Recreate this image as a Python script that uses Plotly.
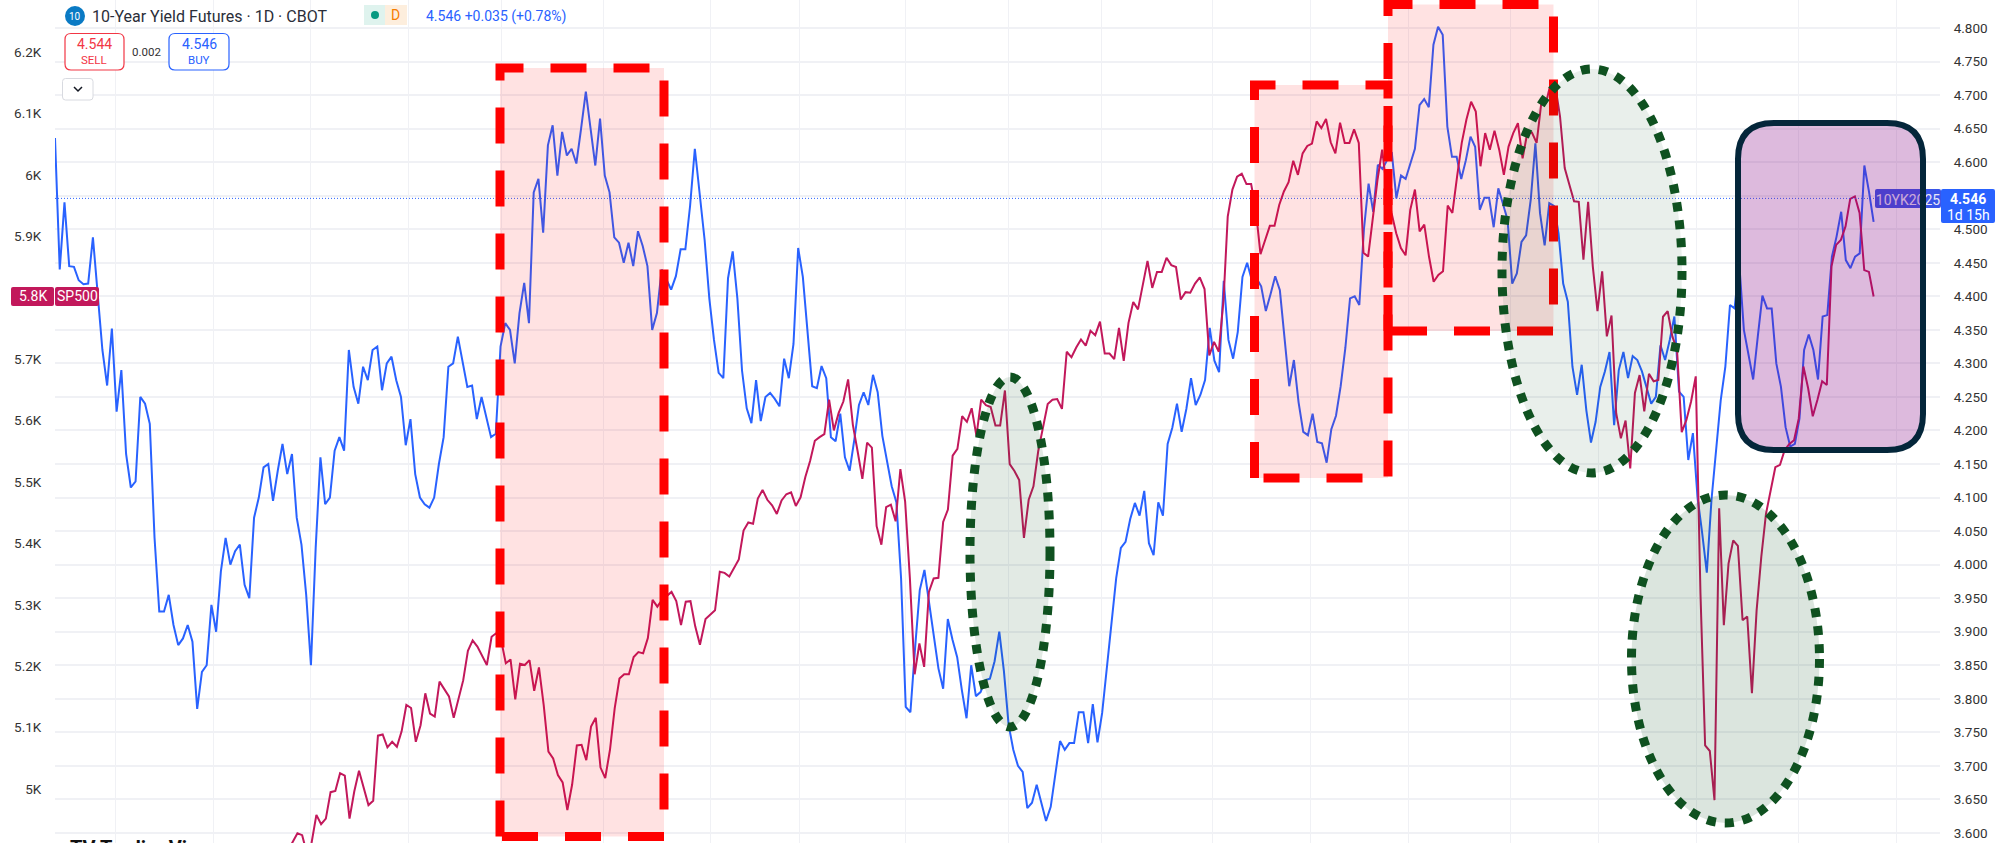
import numpy as np
import plotly.graph_objects as go

# 10-Year Yield Futures, one value per session (right axis)
yield_part1 = [4.636,4.44,4.54,4.445,4.444,4.424,4.418,4.419,4.488,4.40,4.32,4.267,4.352,4.228,4.29,4.165,4.115,4.124,4.25,4.24,4.21,
4.04,3.93,3.93,3.955,3.91,3.88,3.89,3.91,3.885,3.785,3.84,3.85,3.94,3.90,3.99,4.04,4.0,4.02,4.03,3.97,3.95,4.07,4.10,4.145,4.15,4.095,4.14,4.18,4.135,4.165,4.07,4.03,3.955,3.85,4.025,4.16,4.09,4.10,4.17,4.19,4.17,
4.32,4.265,4.24,4.295,4.275,4.32,4.325,4.26,4.30,4.31,4.275,4.25,4.178,4.217,4.135,4.10,4.09,4.085,4.10,4.15,4.19,4.295,4.30,4.34,4.30,4.265,4.267,4.217,4.25,4.22,4.19,4.195,4.325,4.36,4.35,4.30,4.375,4.42,4.36,4.555,4.575,4.495,4.625,4.655,4.58,4.645,4.61,4.62,4.598,4.65,4.705,4.65,4.595,4.665,4.58,4.555,4.488,4.48,4.45,4.48,4.445,4.497,4.475,4.445,4.35,4.375,4.44,4.425,4.41,4.43,4.47,4.47,4.535,4.62]
yield_part2 = [4.548,4.484,4.397,4.335,4.286,4.278,4.427,4.467,4.397,4.289,4.233,4.211,4.275,4.214,4.25,4.256,4.247,4.236,4.307,4.278,4.329,4.472,4.429,4.341,4.266,4.263,4.296,4.278,4.19,4.184,4.225,4.16,4.14,4.186,4.238,4.257,4.238,4.283,4.257,4.192,4.152,4.117,4.093,3.98,3.788,3.78,3.876,3.962,3.992,3.943,3.894,3.845,3.815,3.919,3.888,3.862,3.813,3.771,3.85,3.804,3.81,3.828,3.83,3.856,3.90,3.841,3.761,3.724,3.70,3.691,3.637,3.645,3.672,3.645,3.618,3.639,3.686,3.737,3.724,3.734,3.734,3.78,3.78,3.734,3.792,3.735,3.779,3.845,3.91,3.98,4.025,4.034,4.068,4.092,4.073,4.11,4.032,4.014,4.093,4.073,4.18,4.204,4.24,4.198,4.232,4.278,4.238,4.253,4.275,4.353,4.304,4.287,4.423,4.335,4.307,4.347,4.429,4.45,4.424,4.427,4.415,4.378,4.403,4.43,4.409,4.336,4.266,4.305,4.242,4.198,4.193,4.225,4.183,4.181,4.152,4.202,4.222,4.266,4.323,4.397]
yield_part3 = [4.4,4.387,4.5,4.568,4.526,4.596,4.59,4.603,4.615,4.546,4.58,4.575,4.598,4.62,4.685,4.694,4.682,4.775,4.802,4.79,4.653,4.608,4.608,4.575,4.603,4.638,4.623,4.529,4.547,4.547,4.503,4.561,4.538,4.514,4.419,4.434,4.481,4.491,4.544,4.628,4.524,4.476,4.539,4.535,4.494,4.419,4.392,4.295,4.253,4.298,4.23,4.182,4.213,4.265,4.288,4.317,4.208,4.29,4.317,4.278,4.311,4.305,4.288,4.263,4.24,4.25,4.327,4.305,4.335,4.37,4.258,4.25,4.156,4.196,4.1,4.047,3.988,4.096,4.171,4.245,4.295,4.387,4.382,4.449,4.35,4.315,4.276,4.34,4.401,4.382,4.382,4.3,4.265,4.205,4.176,4.18,4.218,4.32,4.343,4.32,4.276,4.37,4.372,4.459,4.489,4.526,4.454,4.442,4.459,4.464,4.595,4.556,4.511]
yield_sessions = [(0, 137.6), (138.7, 278.5), (279.5, 391.1)]

# SP500, one value per session (left axis)
sp_part1 = [4900,4913,4928,4925,4895,4913,4958,4943,4952,4995,4997,5026,5022,4952,4996,5030,5001,4974,4981,5087,5089,5068,5077,5069,5094,5137,5132,5077,5104,5156,5123,5118,5175,5163,5151,5116,5148,5177,5225,5242,5232,5218,5202,5248,5254,5243,5205,5211,5146,5204,5202,5210,5160,5198,5137,5061,5050,5023,5011,4966,5007,5071,5072,5047,5102,5116,5035,5018,5064,5132,5180,5187,5187,5215,5223,5221,5246,5308,5297,5308,5314,5321,5306,5267,5305,5306,5265,5235]
sp_part2 = [5277,5284,5291,5354,5352,5346,5361,5374,5421,5434,5432,5473,5487,5471,5462,5448,5470,5480,5483,5461,5475,5508,5534,5567,5573,5578,5634,5584,5612,5631,5667,5593,5550,5505,5564,5556,5428,5398,5459,5463,5436,5521,5468,5343,5187,5237,5199,5321,5343,5344,5435,5455,5543,5554,5607,5598,5620,5575,5634,5625,5622,5592,5592,5649,5529,5518,5503,5409,5471,5493,5550,5587,5627,5634,5635,5619,5712,5703,5719,5732,5722,5746,5739,5761,5709,5709,5700,5751,5697,5759,5793,5781,5819,5860,5816,5842,5842,5865,5853,5850,5797,5809,5808,5823,5833,5814,5706,5728,5712,5797]
sp_part3 = [5932,5976,5997,6002,5985,5985,5943,5871,5894,5917,5917,5951,5973,5988,6023,6000,6035,6047,6051,6087,6076,6091,6053,6035,6085,6052,6052,6074,6052,5873,5867,5927,5992,6041,5976,5938,5905,5881,5869,5943,5976,5908,5919,5867,5826,5837,5843,5950,5938,5997,6052,6090,6119,6103,6014,6068,6041,6072,6041,6000,6046,6068,6084,6027,6068,6069,6052,6117,6117,6149,6144,6095,6011,5984,5957,5956,5862,5956,5851,5778,5843,5737,5771,5612,5571,5600,5522,5645,5674,5615,5676,5664,5666,5769,5778,5737,5715,5581,5601,5631,5672,5320,5071,5062,4982,5457,5267,5367,5405,5396,5275,5281,5156,5291,5378,5448,5486,5524,5528,5552,5562,5568,5603,5688,5653,5607,5634,5664,5658,5851,5886,5894,5916,5961,5965,5938,5845,5842,5802]
sp_sessions = [(50.1, 138.7), (139.9, 251.3), (252.2, 391.1)]

yield_ticks = [3.6,3.65,3.7,3.75,3.8,3.85,3.9,3.95,4.0,4.05,4.1,4.15,4.2,4.25,4.3,4.35,4.4,4.45,4.5,4.55,4.6,4.65,4.7,4.75,4.8]
sp_ticks = [5000,5100,5200,5300,5400,5500,5600,5700,5800,5900,6000,6100,6200]
sp_tick_labels = ["5K","5.1K","5.2K","5.3K","5.4K","5.5K","5.6K","5.7K","","5.9K","6K","6.1K","6.2K"]
session_grid = [13,34,55,76,96,118,141,160,183,205,225,249,270,291,313,332,353,375,396]

def sessions(parts, spans):
    return np.concatenate([np.linspace(a, b, len(p)) for p, (a, b) in zip(parts, spans)]).tolist()

blue = yield_part1 + yield_part2 + yield_part3
blue_x = sessions([yield_part1, yield_part2, yield_part3], yield_sessions)
red = sp_part1 + sp_part2 + sp_part3
red_x = sessions([sp_part1, sp_part2, sp_part3], sp_sessions)

W, H = 2000, 843
L, R = 55, 1940
step = 4.65
def px(x): return (x - L) / (R - L)
def py(y): return 1 - y / H

BLUE, RED = "#2962ff", "#c2185b"
fig = go.Figure()
fig.add_trace(go.Scatter(x=blue_x, y=blue, mode="lines", yaxis="y", line=dict(color=BLUE, width=2), hoverinfo="skip"))
fig.add_trace(go.Scatter(x=red_x, y=red, mode="lines", yaxis="y2", line=dict(color=RED, width=2), hoverinfo="skip"))

shapes = []
def pshape(path, **kw):
    shapes.append(dict(type="path", xref="paper", yref="paper", path=path, layer="above", **kw))

def box(l, t, r, b):
    return f"M{px(l)},{py(b)} V{py(t)} H{px(r)} V{py(b)} Z"

def round_box(l, t, r, b, rad):
    return (f"M{px(l+rad)},{py(t)} L{px(r-rad)},{py(t)} Q{px(r)},{py(t)} {px(r)},{py(t+rad)} "
            f"L{px(r)},{py(b-rad)} Q{px(r)},{py(b)} {px(r-rad)},{py(b)} "
            f"L{px(l+rad)},{py(b)} Q{px(l)},{py(b)} {px(l)},{py(b-rad)} "
            f"L{px(l)},{py(t+rad)} Q{px(l)},{py(t)} {px(l+rad)},{py(t)} Z")

def solid(l, t, r, b, fill, line=None, lw=0, rad=0, **kw):
    line_d = dict(color=line, width=lw) if line else dict(width=0)
    p = round_box(l, t, r, b, rad) if rad else box(l, t, r, b)
    pshape(p, fillcolor=fill, line=line_d, **kw)

# current price line
shapes.append(dict(type="line", xref="paper", yref="y", x0=0, x1=1, y0=4.546, y1=4.546, layer="above",
                   line=dict(color=BLUE, width=1, dash="1px,2px")))

# symbol tag sits beneath the purple box
solid(1875, 189, 1941, 208, "#3a55e8", rad=2,
      label=dict(text="10YK2025", font=dict(family="Roboto", size=14, color="#e8e8f8"), textposition="middle center"))
solid(1941, 189, 1995, 223, BLUE, rad=2)

# red dashed rectangles
red_fill = "rgba(255,0,0,0.115)"
red_line = dict(color="#ff0000", width=9, dash="36px,27px")
pshape(box(500, 68, 664, 836.5), fillcolor=red_fill, line=red_line)
pshape(box(1254.5, 85, 1388, 478), fillcolor=red_fill, line=red_line)
pshape(box(1388, 4.5, 1553.5, 331), fillcolor=red_fill, line=red_line)

# green dotted ellipses
green_line = dict(color="#0f5120", width=9, dash="9px,9px")
def ellipse(cx, cy, rx, ry, fill):
    shapes.append(dict(type="circle", xref="paper", yref="paper", x0=px(cx-rx), x1=px(cx+rx), y0=py(cy+ry), y1=py(cy-ry),
                       fillcolor=fill, line=green_line, layer="above"))
ellipse(1010, 552, 40, 175, "rgba(15,81,32,0.12)")
ellipse(1592, 271, 90, 202, "rgba(15,81,32,0.09)")
ellipse(1725.5, 659, 94, 164, "rgba(15,81,32,0.15)")

# purple rounded box
solid(1738, 123, 1923, 450, "rgba(128,0,128,0.27)", line="#04263a", lw=6, rad=36)

# header widgets
shapes.append(dict(type="circle", xref="paper", yref="paper", x0=px(65), x1=px(85), y0=py(26), y1=py(6), fillcolor="#0a7ac4", line=dict(width=0), layer="above"))
solid(364, 5, 385, 25, "#dff3ee", rad=0)
solid(385, 5, 407, 25, "#fdeedd", rad=0)
shapes.append(dict(type="circle", xref="paper", yref="paper", x0=px(371), x1=px(379), y0=py(19), y1=py(11), fillcolor="#089981", line=dict(width=0), layer="above"))
solid(65, 33.5, 124, 70, "#ffffff", line="#f23645", lw=1.2, rad=6)
solid(169, 33.5, 229, 70, "#ffffff", line=BLUE, lw=1.2, rad=6)
solid(62.5, 78.5, 93, 100, "#ffffff", line="#d8dae0", lw=1, rad=3)
pshape(f"M{px(74)},{py(87)} L{px(78)},{py(91)} L{px(82)},{py(87)}", line=dict(color="#131722", width=1.5))
# SP500 tag
solid(11, 287, 54, 306, RED, rad=2)
solid(55, 287, 99, 306, RED, rad=2)

annotations = []
def text(x, y, s, size=14, color="#333333", anchor="center", family="Roboto", bold=False):
    annotations.append(dict(xref="paper", yref="paper", x=px(x), y=py(y), text=f"<b>{s}</b>" if bold else s, showarrow=False,
                            xanchor=anchor, yanchor="middle", font=dict(family=family, size=size, color=color)))

text(75, 16, "10", 10, "#ffffff")
text(90, 16, "10-Year Yield Futures · 1D · CBOT", 16, "#2a2e39", "left")
text(395, 15.5, "D", 14, "#f57c00")
text(424, 16, "4.546 +0.035 (+0.78%)", 14, BLUE, "left")
text(94, 44, "4.544", 14, "#f23645")
text(94, 60, "SELL", 11.5, "#f23645")
text(146.5, 52, "0.002", 11.5, "#333333")
text(199, 44, "4.546", 14, BLUE)
text(199, 60, "BUY", 11.5, BLUE)
text(32.5, 296.5, "5.8K", 14, "#ffffff")
text(77, 296.5, "SP500", 14, "#ffffff")
text(1968, 199, "4.546", 14, "#ffffff", bold=True)
text(1968, 215, "1d 15h", 14, "#ffffff")
annotations.append(dict(xref="paper", yref="paper", x=px(68), y=py(848), text="<b>TV TradingView</b>", showarrow=False, xanchor="left", yanchor="middle",
                        font=dict(family="Roboto", size=20, color="#111111")))

y_span = 670.8
sp_scale = 1.628
GRID = "#f0f1f5"
fig.update_layout(
    width=W, height=H, margin=dict(l=L, r=W-R, t=0, b=0), showlegend=False,
    paper_bgcolor="#ffffff", plot_bgcolor="#ffffff", hovermode=False,
    xaxis=dict(domain=[0, 1], range=[0, (R-L)/step], tickvals=session_grid, showticklabels=False, ticks="",
               showgrid=True, gridcolor=GRID, gridwidth=1, zeroline=False, showline=False),
    yaxis=dict(side="right", range=[4.8-(H-28)/y_span, 4.8+28/y_span], tickvals=yield_ticks, tickformat=".3f",
               showgrid=True, gridcolor=GRID, gridwidth=1.5, zeroline=False, showline=False,
               ticks="outside", ticklen=10, tickcolor="rgba(0,0,0,0)", tickfont=dict(family="Roboto", size=13.5, color="#333333")),
    yaxis2=dict(side="left", overlaying="y", anchor="x", range=[6200-(H-52)*sp_scale, 6200+52*sp_scale], tickvals=sp_ticks, ticktext=sp_tick_labels,
                showgrid=False, zeroline=False, showline=False, ticks="outside", ticklen=10, tickcolor="rgba(0,0,0,0)",
                tickfont=dict(family="Roboto", size=13.5, color="#333333")),
    shapes=shapes, annotations=annotations,
)
fig.write_html("out.html", config=dict(displayModeBar=False),
               post_script="document.body.style.margin='0';document.documentElement.style.overflow='hidden';")
